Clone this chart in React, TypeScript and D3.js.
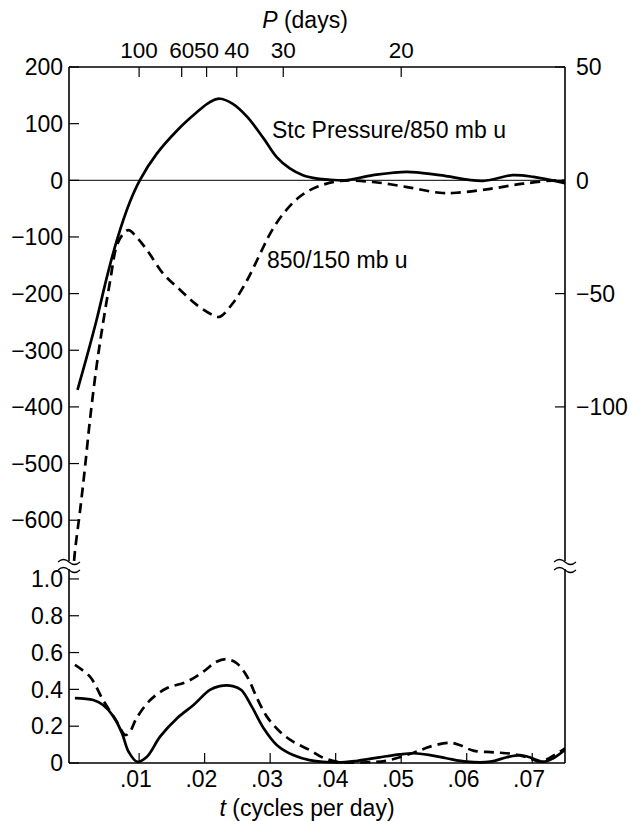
import React from 'react';
import * as d3 from 'd3';

// frequency (cycles per day) and values
const stcFreq = [0.0006, 0.0020, 0.0035, 0.0051, 0.0066, 0.0086, 0.0101, 0.0127, 0.0158, 0.0188, 0.0208, 0.0223, 0.0243, 0.0265, 0.0290, 0.0310, 0.0330, 0.0350, 0.0372, 0.0392, 0.0414, 0.0457, 0.0509, 0.0559, 0.0625, 0.0670, 0.0702, 0.075];
const stcValue = [-370, -312, -247, -170, -106, -38, 0, 47, 88, 120, 138, 144, 135, 112, 74, 41, 21, 9, 3, 1, 0, 9, 15, 9, -1, 9, 6, -5];

const shearFreq = [-0.0001, 0.0002, 0.0010, 0.0017, 0.0025, 0.0035, 0.0044, 0.0056, 0.0066, 0.0076, 0.0084, 0.0096, 0.0112, 0.0137, 0.0163, 0.0188, 0.0213, 0.0223, 0.0243, 0.0265, 0.0285, 0.0300, 0.0320, 0.0345, 0.0371, 0.0407, 0.0457, 0.0509, 0.0559, 0.0584, 0.0636, 0.0686, 0.0737, 0.075];
const shearValue = [-700, -656, -582, -511, -423, -329, -259, -176, -115, -94, -88, -100, -123, -165, -194, -220, -238, -241, -217, -176, -129, -94, -59, -29, -12, -1, -3, -12, -22, -22, -15, -6, 0, -1];

const cohSolidFreq = [0.0002, 0.0030, 0.0045, 0.0061, 0.0074, 0.0084, 0.0097, 0.0112, 0.0132, 0.0158, 0.0183, 0.0208, 0.0223, 0.0243, 0.0256, 0.0272, 0.0290, 0.0310, 0.0335, 0.0360, 0.0403, 0.0433, 0.0467, 0.0498, 0.0519, 0.0544, 0.0569, 0.0600, 0.0636, 0.0661, 0.0681, 0.0696, 0.0717, 0.0732, 0.075];
const cohSolidValue = [0.352, 0.342, 0.315, 0.252, 0.161, 0.061, 0.007, 0.034, 0.143, 0.243, 0.315, 0.397, 0.418, 0.418, 0.397, 0.306, 0.189, 0.098, 0.043, 0.016, 0.003, 0.012, 0.031, 0.047, 0.053, 0.043, 0.026, 0.007, 0.007, 0.031, 0.043, 0.031, 0.007, 0.026, 0.072];

const cohDashFreq = [0.0002, 0.0025, 0.0045, 0.0066, 0.0079, 0.0086, 0.0096, 0.0117, 0.0142, 0.0173, 0.0198, 0.0218, 0.0234, 0.0249, 0.0265, 0.0280, 0.0295, 0.0315, 0.0335, 0.0360, 0.0380, 0.0403, 0.0450, 0.0477, 0.0519, 0.0544, 0.0574, 0.0589, 0.0610, 0.0641, 0.0671, 0.0696, 0.0712, 0.0738, 0.075];
const cohDashValue = [0.533, 0.469, 0.342, 0.224, 0.152, 0.17, 0.243, 0.342, 0.406, 0.442, 0.496, 0.55, 0.564, 0.542, 0.469, 0.352, 0.252, 0.17, 0.116, 0.071, 0.03, 0.007, 0.004, 0.012, 0.056, 0.089, 0.11, 0.098, 0.067, 0.058, 0.049, 0.026, 0.007, 0.053, 0.08];

const leftTicks = [200, 100, 0, -100, -200, -300, -400, -500, -600];
const rightTicks = [50, 0, -50, -100];
const lowerTicks = [0, 0.2, 0.4, 0.6, 0.8, 1.0];
const freqTicks = [0.01, 0.02, 0.03, 0.04, 0.05, 0.06, 0.07];
// period labels and where their ticks sit on the frequency axis, as drawn
const periodTicks = [100, 60, 50, 40, 30, 20];
const periodTickFreq = [0.0100, 0.0165, 0.0203, 0.0249, 0.0320, 0.0500];

const W = 630, H = 821;
const left = 69, right = 565, top = 67, upperBottom = 561, lowerTop = 569, bottom = 763;
const font = '"Liberation Sans", Arial, sans-serif';
const fs = 23;
const tk = 10;

const minus = (v: number) => (v < 0 ? '\u2212' + Math.abs(v) : String(v));

export default function App() {
  const x = d3.scaleLinear().domain([-0.0007, 0.075]).range([left, right]);
  const yU = d3.scaleLinear().domain([-672, 200]).range([upperBottom, top]);
  const yR = d3.scaleLinear().domain([-168, 50]).range([upperBottom, top]);
  const yL = d3.scaleLinear().domain([0, 1.054]).range([bottom, lowerTop]);

  const lineU = d3.line<[number, number]>().x(d => x(d[0])).y(d => yU(d[1])).curve(d3.curveCatmullRom.alpha(0.5));
  const lineL = d3.line<[number, number]>().x(d => x(d[0])).y(d => yL(d[1])).curve(d3.curveCatmullRom.alpha(0.5));

  const zip = (a: number[], b: number[]) => a.map((v, i) => [v, b[i]] as [number, number]);

  const brk = (cx: number, cy: number) => `M${cx - 11},${cy + 1} q5.5,-5 11,0 t11,0`;

  return (
    <svg width={W} height={H} style={{ position: 'absolute', left: 0, top: 0, background: '#fff' }}
      fontFamily={font} fontSize={fs} fill="#000">
      <defs>
        <clipPath id="upper"><rect x={left} y={top} width={right - left} height={upperBottom - top} /></clipPath>
        <clipPath id="lower"><rect x={left} y={lowerTop} width={right - left} height={bottom - lowerTop + 3} /></clipPath>
      </defs>

      {/* frame */}
      <g stroke="#000" strokeWidth={1.6} fill="none">
        <line x1={left} x2={right} y1={top} y2={top} />
        <line x1={left} x2={left} y1={top} y2={upperBottom} />
        <line x1={left} x2={left} y1={lowerTop} y2={bottom} />
        <line x1={right} x2={right} y1={top} y2={upperBottom} />
        <line x1={right} x2={right} y1={lowerTop} y2={bottom} />
        <line x1={left} x2={right} y1={bottom} y2={bottom} />
        <path d={brk(left, upperBottom)} strokeWidth={1.2} />
        <path d={brk(left, lowerTop)} strokeWidth={1.2} />
        <path d={brk(right, upperBottom)} strokeWidth={1.2} />
        <path d={brk(right, lowerTop)} strokeWidth={1.2} />
      </g>
      <line x1={left} x2={right} y1={yU(0)} y2={yU(0)} stroke="#000" strokeWidth={1} />

      {/* left upper axis */}
      {leftTicks.map(v => (
        <g key={'l' + v}>
          <line x1={left} x2={left + tk} y1={yU(v)} y2={yU(v)} stroke="#000" strokeWidth={1.2} />
          <text x={left - 6} y={yU(v)} dy="0.36em" textAnchor="end">{minus(v)}</text>
        </g>
      ))}
      {/* right axis */}
      {rightTicks.map(v => (
        <g key={'r' + v}>
          <line x1={right - tk} x2={right} y1={yR(v)} y2={yR(v)} stroke="#000" strokeWidth={1.2} />
          <text x={right + 11} y={yR(v)} dy="0.36em">{minus(v)}</text>
        </g>
      ))}
      {/* lower left axis */}
      {lowerTicks.map(v => (
        <g key={'c' + v}>
          <line x1={left} x2={left + tk} y1={yL(v)} y2={yL(v)} stroke="#000" strokeWidth={1.2} />
          <text x={left - 6} y={yL(v)} dy="0.36em" textAnchor="end">{v === 0 ? '0' : v.toFixed(1)}</text>
        </g>
      ))}
      {/* bottom axis: digits centred on the tick, the point hangs left */}
      {freqTicks.map(v => (
        <g key={'f' + v}>
          <line x1={x(v)} x2={x(v)} y1={bottom} y2={bottom - tk} stroke="#000" strokeWidth={1.2} />
          <text x={x(v) + 12.8} y={787} textAnchor="end">{v.toFixed(2).replace(/^0/, '')}</text>
        </g>
      ))}
      {/* top axis (period) */}
      {periodTicks.map((p, i) => (
        <g key={'p' + p}>
          <line x1={x(periodTickFreq[i])} x2={x(periodTickFreq[i])} y1={top} y2={top + tk} stroke="#000" strokeWidth={1.2} />
          <text x={x(periodTickFreq[i])} y={58} textAnchor="middle" fontSize={22.5}>{p}</text>
        </g>
      ))}

      <text x={305} y={28} textAnchor="middle"><tspan fontStyle="italic">P</tspan> (days)</text>
      <text x={307} y={816} textAnchor="middle"><tspan fontStyle="italic">t</tspan> (cycles per day)</text>

      {/* upper panel curves */}
      <g clipPath="url(#upper)" fill="none" stroke="#000" strokeWidth={2.7}>
        <path d={lineU(zip(stcFreq, stcValue)) || ''} />
        <path d={lineU(zip(shearFreq, shearValue)) || ''} strokeDasharray="10,6" />
      </g>
      <text x={272} y={138}>Stc Pressure/850 mb u</text>
      <text x={267} y={268}>850/150 mb u</text>

      {/* lower panel curves */}
      <g clipPath="url(#lower)" fill="none" stroke="#000" strokeWidth={2.7}>
        <path d={lineL(zip(cohSolidFreq, cohSolidValue)) || ''} />
        <path d={lineL(zip(cohDashFreq, cohDashValue)) || ''} strokeDasharray="10,6" />
      </g>
    </svg>
  );
}
